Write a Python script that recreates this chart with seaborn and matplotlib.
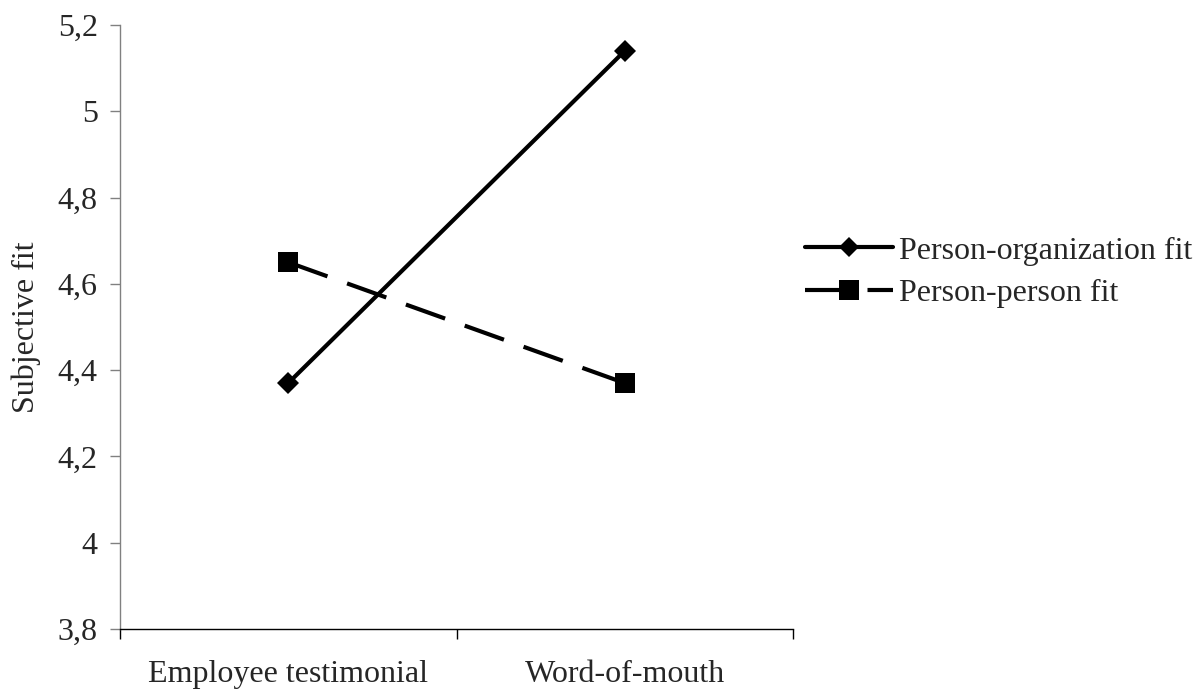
import pandas as pd
import matplotlib
matplotlib.use('Agg')
import matplotlib.pyplot as plt
import seaborn as sns

# --- data ---
conditions = ['Employee testimonial', 'Word-of-mouth']
po_fit = [4.37, 5.14]
pp_fit = [4.65, 4.37]
series_names = ['Person-organization fit', 'Person-person fit']
y_ticks = [3.8, 4.0, 4.2, 4.4, 4.6, 4.8, 5.0, 5.2]

sns.set_theme(style="white")
plt.rcParams['font.family'] = ['Liberation Serif', 'DejaVu Serif']
plt.rcParams['axes.unicode_minus'] = False

df = pd.DataFrame({
    'condition': conditions * 2,
    'fit': po_fit + pp_fit,
    'series': [series_names[0]] * 2 + [series_names[1]] * 2,
})

fig = plt.figure(figsize=(12.02, 6.89), dpi=100)
ax = fig.add_axes([120 / 1202, 1 - 629 / 689, 673 / 1202, 604 / 689])

sns.lineplot(data=df, x='condition', y='fit', hue='series', style='series',
             palette=['black', 'black'],
             markers={series_names[0]: 'D', series_names[1]: 's'},
             dashes={series_names[0]: '', series_names[1]: (10, 5)},
             linewidth=3, markeredgewidth=0, ax=ax, legend=True)
marker_sizes = [11, 15]
for line, ms in zip(ax.lines, marker_sizes):
    line.set_markersize(ms)

ax.set_xlim(-0.5, 1.5)
ax.set_ylim(3.8, 5.2)
ax.set_yticks(y_ticks)
ax.set_yticklabels([f"{v:g}".replace('.', ',') for v in y_ticks])
ax.set_xticks([0, 1])
ax.set_xticklabels(conditions)
ax.set_xticks([-0.5, 0.5, 1.5], minor=True)
ax.tick_params(axis='x', which='major', length=0, pad=22, labelsize=23)
ax.tick_params(axis='x', which='minor', length=7, width=1, color='black',
               direction='out', bottom=True)
ax.tick_params(axis='y', length=7, width=1, color='#808080', direction='out',
               left=True, pad=9, labelsize=23)
ax.set_xlabel('')
ax.set_ylabel('Subjective fit', fontsize=23, labelpad=12)

for side in ['top', 'right']:
    ax.spines[side].set_visible(False)
ax.spines['left'].set_color('#808080')
ax.spines['bottom'].set_color('black')
ax.spines['left'].set_linewidth(1)
ax.spines['bottom'].set_linewidth(1)

handles, labels = ax.get_legend_handles_labels()
for h, ms in zip(handles, [10, 14]):
    h.set_markersize(ms)
    h.set_markeredgewidth(0)
    h.set_linewidth(3)
leg = ax.legend(handles, labels, loc='center left', bbox_to_anchor=(1.018, 0.591),
                frameon=False, fontsize=23, handlelength=2.75, handletextpad=0.2,
                labelspacing=0.4, borderaxespad=0, borderpad=0)

fig.savefig('out.png', dpi=100)
plt.close(fig)
